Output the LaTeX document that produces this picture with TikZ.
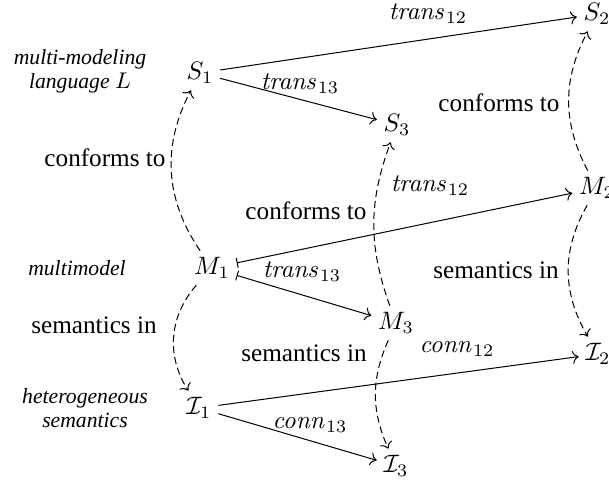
\documentclass[tikz,border=0pt]{standalone}
\usepackage[no-math]{fontspec}
\setmainfont{Liberation Serif}
\usetikzlibrary{arrows.meta}
\begin{document}
\begin{tikzpicture}[x=0.397pt,y=-0.397pt,
  obj/.style={inner sep=2.5pt},
  mor/.style={line width=0.4pt,-{Computer Modern Rightarrow}},
  mapsto/.style={line width=0.4pt,{Bar[width=4pt]}-{Computer Modern Rightarrow}},
  conf/.style={line width=0.4pt,-{Computer Modern Rightarrow},dash pattern=on 2.8pt off 1.6pt},
  lbl/.style={inner sep=0pt},
  side/.style={font=\itshape\fontsize{8.6}{9.6}\selectfont,align=center,inner sep=0pt}]
\useasboundingbox (0,0) rectangle (609,482);
% objects
\node[obj] (S1) at (200,73) {$S_1$};
\node[obj] (S2) at (597,14) {$S_2$};
\node[obj] (S3) at (397,125) {$S_3$};
\node[obj] (M1) at (212,268) {$M_1$};
\node[obj] (M2) at (597,188) {$M_2$};
\node[obj] (M3) at (396,323) {$M_3$};
\node[obj] (I1) at (199,408) {$\mathcal{I}_1$};
\node[obj] (I2) at (598,354) {$\mathcal{I}_2$};
\node[obj] (I3) at (396,466) {$\mathcal{I}_3$};
% side labels
\node[side] (tL) at (80,71) {multi-modeling\\language $L$};
\node[side] (tM) at (77,268) {multimodel};
\node[side] (tI) at (85,408) {heterogeneous\\semantics};
% transformations
\draw[mor] (S1) -- (S2);
\draw[mor] (S1) -- (S3);
\draw[mapsto] (M1) -- (M2);
\draw[mapsto] (M1) -- (M3);
\draw[mor] (I1) -- (I2);
\draw[mor] (I1) -- (I3);
\node[lbl] (l1) at (428,14) {$\mathit{trans}_{12}$};
\node[lbl] (l2) at (300,84) {$\mathit{trans}_{13}$};
\node[lbl] (l3) at (430,186) {$\mathit{trans}_{12}$};
\node[lbl] (l4) at (302,272) {$\mathit{trans}_{13}$};
\node[lbl] (l5) at (457,349) {$\mathit{conn}_{12}$};
\node[lbl] (l6) at (310,425) {$\mathit{conn}_{13}$};
% conformance / semantics
\draw[conf] (M1) to[bend left=31] (S1);
\draw[conf] (M1) to[bend right=37] (I1);
\draw[conf] (M3) to[bend left=20] (S3);
\draw[conf] (M3) to[bend right=24] (I3);
\draw[conf] (M2) to[bend left=28] (S2);
\draw[conf] (M2) to[bend right=30] (I2);
\node[lbl] (c1) at (105,158) {conforms to};
\node[lbl] (c2) at (306,211) {conforms to};
\node[lbl] (c3) at (499,103) {conforms to};
\node[lbl] (s1) at (94,325) {semantics in};
\node[lbl] (s2) at (304,353) {semantics in};
\node[lbl] (s3) at (496,270) {semantics in};
\end{tikzpicture}
\end{document}
